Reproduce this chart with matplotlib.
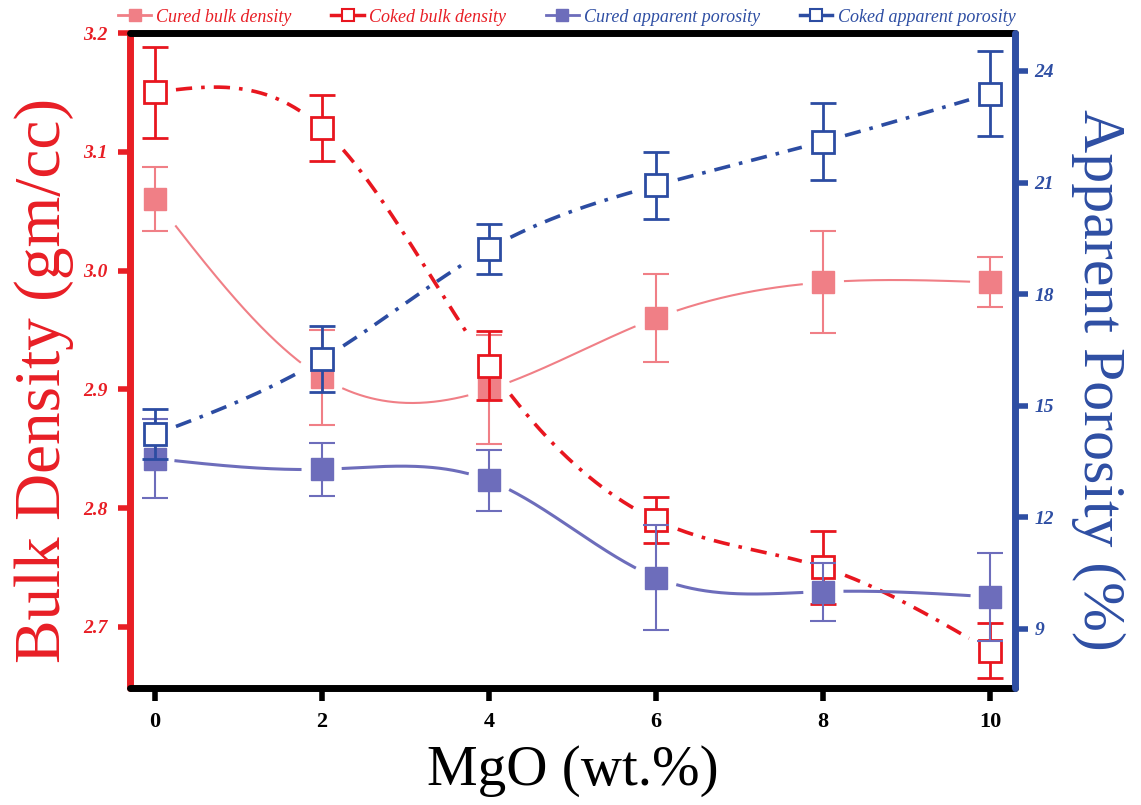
import numpy as np
import matplotlib
matplotlib.use('Agg')
import matplotlib.pyplot as plt
from matplotlib.lines import Line2D

# ---- data ----
mgo = [0, 2, 4, 6, 8, 10]
cured_bd = [3.06, 2.91, 2.90, 2.96, 2.99, 2.99]
cured_bd_err = [0.027, 0.04, 0.046, 0.037, 0.043, 0.021]
coked_bd = [3.15, 3.12, 2.92, 2.79, 2.75, 2.68]
coked_bd_err = [0.038, 0.028, 0.029, 0.019, 0.031, 0.023]
cured_ap = [13.58, 13.29, 12.99, 10.38, 10.0, 9.86]
cured_ap_err = [1.05, 0.71, 0.81, 1.4, 0.78, 1.19]
coked_ap = [14.23, 16.25, 19.22, 20.92, 22.1, 23.39]
coked_ap_err = [0.67, 0.89, 0.67, 0.9, 1.03, 1.15]
xticks = [0, 2, 4, 6, 8, 10]
left_ticks = [2.7, 2.8, 2.9, 3.0, 3.1, 3.2]
right_ticks = [9, 12, 15, 18, 21, 24]

C_CURED_BD = '#f07f86'
C_COKED_BD = '#e8161f'
C_CURED_AP = '#6d6dbb'
C_COKED_AP = '#2c4ca2'
C_LEFT = '#e81e25'
C_RIGHT = '#2e4ea3'

SERIF = 'Liberation Serif'


def natural_spline(x, y, xs):
    x = np.asarray(x, float)
    y = np.asarray(y, float)
    n = len(x)
    h = np.diff(x)
    A = np.zeros((n, n))
    b = np.zeros(n)
    A[0, 0] = A[-1, -1] = 1
    for i in range(1, n - 1):
        A[i, i - 1] = h[i - 1]
        A[i, i] = 2 * (h[i - 1] + h[i])
        A[i, i + 1] = h[i]
        b[i] = 3 * ((y[i + 1] - y[i]) / h[i] - (y[i] - y[i - 1]) / h[i - 1])
    c = np.linalg.solve(A, b)
    bb = np.zeros(n - 1)
    d = np.zeros(n - 1)
    for i in range(n - 1):
        bb[i] = (y[i + 1] - y[i]) / h[i] - h[i] * (2 * c[i] + c[i + 1]) / 3
        d[i] = (c[i + 1] - c[i]) / (3 * h[i])
    idx = np.clip(np.searchsorted(x, xs) - 1, 0, n - 2)
    dx = xs - x[idx]
    return y[idx] + bb[idx] * dx + c[idx] * dx ** 2 + d[idx] * dx ** 3


def smooth_line(ax, x, y, gap=0.25, **kw):
    xs = np.linspace(min(x), max(x), 600)
    ys = natural_spline(x, y, xs)
    dist = np.min(np.abs(xs[:, None] - np.asarray(x, float)[None, :]), axis=1)
    ys = np.where(dist < gap, np.nan, ys)
    ax.plot(xs, ys, **kw)


fig = plt.figure(figsize=(11.41, 8.05), dpi=100)
ax = fig.add_axes([130 / 1141, 1 - 688 / 805, 885 / 1141, 655 / 805])
ax2 = ax.twinx()

ax.set_xlim(-0.3, 10.3)
ax.set_ylim(2.6485, 3.2)
ax2.set_ylim(7.41, 25.02)

dashdot = (0, (4.5, 2.5, 1.0, 2.5))
MS = 15.5

# cured bulk density
smooth_line(ax, mgo, cured_bd, color=C_CURED_BD, lw=1.5, zorder=2)
ax.errorbar(mgo, cured_bd, yerr=cured_bd_err, fmt='s', ms=MS, color=C_CURED_BD,
            mfc=C_CURED_BD, mec=C_CURED_BD, ecolor=C_CURED_BD, elinewidth=1.5,
            capsize=9.5, capthick=1.5, zorder=3)
# coked bulk density
smooth_line(ax, mgo, coked_bd, color=C_COKED_BD, lw=2.6, ls=dashdot, zorder=4)
ax.errorbar(mgo, coked_bd, yerr=coked_bd_err, fmt='s', ms=MS, color=C_COKED_BD,
            mfc='white', mec=C_COKED_BD, mew=2.0, ecolor=C_COKED_BD, elinewidth=2.0,
            capsize=9.5, capthick=2.0, zorder=5)

# cured apparent porosity
smooth_line(ax2, mgo, cured_ap, color=C_CURED_AP, lw=2.2, zorder=2)
ax2.errorbar(mgo, cured_ap, yerr=cured_ap_err, fmt='s', ms=MS, color=C_CURED_AP,
             mfc=C_CURED_AP, mec=C_CURED_AP, ecolor=C_CURED_AP, elinewidth=1.5,
             capsize=9.5, capthick=1.5, zorder=3)
# coked apparent porosity
smooth_line(ax2, mgo, coked_ap, color=C_COKED_AP, lw=2.6, ls=dashdot, zorder=4)
ax2.errorbar(mgo, coked_ap, yerr=coked_ap_err, fmt='s', ms=MS, color=C_COKED_AP,
             mfc='white', mec=C_COKED_AP, mew=2.0, ecolor=C_COKED_AP, elinewidth=2.0,
             capsize=9.5, capthick=2.0, zorder=5)

# spines
for a in (ax, ax2):
    for s in a.spines.values():
        s.set_linewidth(5)
        s.set_capstyle('round')
    a.spines['top'].set_color('black')
    a.spines['bottom'].set_color('black')
ax.spines['left'].set_color(C_LEFT)
ax2.spines['left'].set_visible(False)
ax.spines['right'].set_visible(False)
ax2.spines['right'].set_color(C_RIGHT)
ax2.spines['top'].set_visible(False)
ax2.spines['bottom'].set_visible(False)

# ticks
ax.set_xticks(xticks)
ax.set_xticklabels([str(t) for t in xticks], fontsize=16, family=SERIF, fontweight='bold')
ax.tick_params(axis='x', direction='out', length=9, width=4, color='black', pad=8)
ax.set_yticks(left_ticks)
ax.set_yticklabels([f'{t:.1f}' for t in left_ticks], fontsize=14, family=SERIF,
                   fontweight='bold', style='italic', color=C_LEFT)
ax.tick_params(axis='y', direction='out', length=9, width=4, color=C_LEFT, pad=7)
ax2.set_yticks(right_ticks)
ax2.set_yticklabels([str(t) for t in right_ticks], fontsize=14, family=SERIF,
                    fontweight='bold', style='italic', color=C_RIGHT)
ax2.tick_params(axis='y', direction='out', length=9, width=4, color=C_RIGHT, pad=5)

ax.set_xlabel('MgO (wt.%)', fontsize=41, family=SERIF, color='black')
ax.set_ylabel('Bulk Density (gm/cc)', fontsize=47, family=SERIF, color=C_LEFT)
ax2.set_ylabel('Apparent Porosity (%)', fontsize=43, family=SERIF, color=C_RIGHT,
               rotation=270)
ax.xaxis.set_label_coords(0.5, -0.087)
ax.yaxis.set_label_coords(-0.063, 0.47)
ax2.yaxis.set_label_coords(1.124, 0.47)

# legend
handles = [
    Line2D([0], [0], color=C_CURED_BD, lw=2, marker='s', ms=9, mfc=C_CURED_BD, mec=C_CURED_BD),
    Line2D([0], [0], color=C_COKED_BD, lw=2.5, marker='s', ms=9, mfc='white', mec=C_COKED_BD, mew=1.5),
    Line2D([0], [0], color=C_CURED_AP, lw=2, marker='s', ms=9, mfc=C_CURED_AP, mec=C_CURED_AP),
    Line2D([0], [0], color=C_COKED_AP, lw=2.5, marker='s', ms=9, mfc='white', mec=C_COKED_AP, mew=1.5),
]
labels = ['Cured bulk density', 'Coked bulk density', 'Cured apparent porosity',
          'Coked apparent porosity']
fig.legend(handles, labels, loc='center', bbox_to_anchor=(567 / 1141, 1 - 17 / 805),
           ncol=4, frameon=False, handlelength=1.8, handletextpad=0.3, columnspacing=2.2,
           prop={'family': SERIF, 'size': 13, 'style': 'italic'},
           labelcolor=[C_LEFT, C_LEFT, C_RIGHT, C_RIGHT])

fig.savefig('out.png', dpi=100)
